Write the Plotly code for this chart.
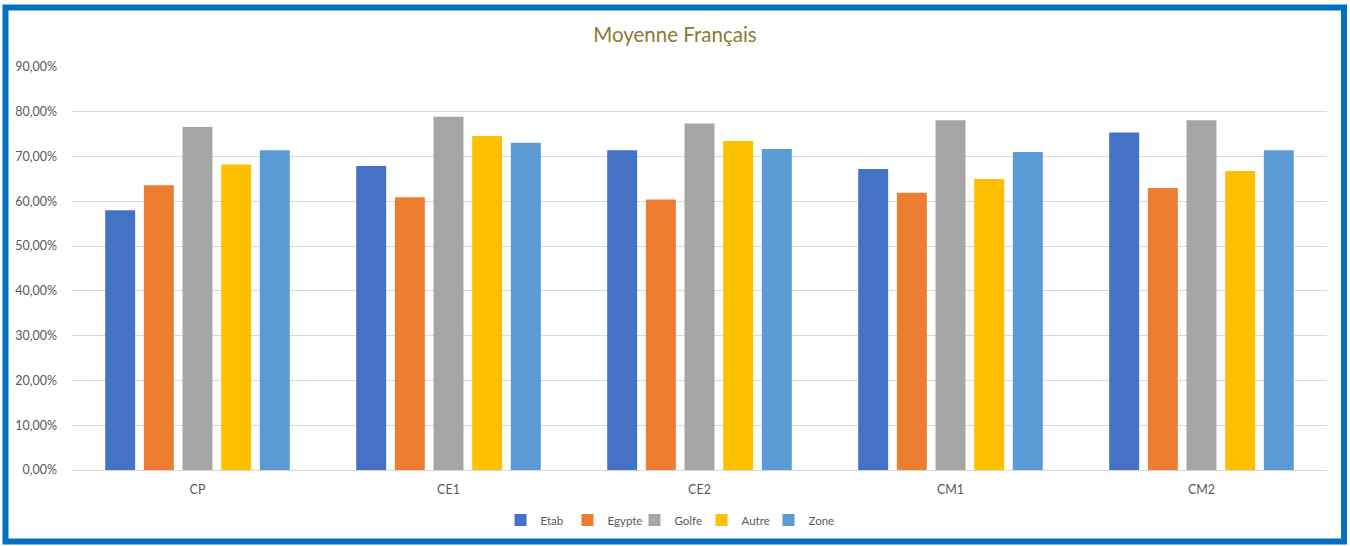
import plotly.graph_objects as go

categories = ["CP", "CE1", "CE2", "CM1", "CM2"]
series_names = ["Etab", "Egypte", "Golfe", "Autre", "Zone"]
etab = [0.580, 0.679, 0.714, 0.672, 0.754]
egypte = [0.636, 0.609, 0.604, 0.619, 0.630]
golfe = [0.766, 0.789, 0.774, 0.781, 0.781]
autre = [0.682, 0.746, 0.735, 0.650, 0.668]
zone = [0.714, 0.731, 0.717, 0.710, 0.714]
colors = ["#4472C4", "#ED7D31", "#A5A5A5", "#FFC000", "#5B9BD5"]

fig = go.Figure()
for name, vals, col in zip(series_names, [etab, egypte, golfe, autre, zone], colors):
    fig.add_trace(go.Bar(name=name, x=categories, y=vals, marker=dict(color=col, line=dict(width=0))))

W, H = 1350, 546
ml, mr, mt, mb = 72, 23, 67, 76
pw, ph = W - ml - mr, H - mt - mb

def px_x(p):
    return (p - ml) / pw

def px_y(p):
    return (H - mb - p) / ph

fig.update_layout(
    width=W, height=H,
    margin=dict(l=ml, r=mr, t=mt, b=mb, autoexpand=False),
    paper_bgcolor="white", plot_bgcolor="white",
    barmode="group", bargap=0.23, bargroupgap=0.225,
    separators=", ",
    font=dict(family="Lato, Open Sans, sans-serif", color="#595959", size=12),
    title=dict(text="Moyenne Français", x=0.5, xanchor="center", xref="container",
               y=1 - 35 / H, yanchor="middle",
               font=dict(size=20.5, color="#8C7B2F", family="Lato, Open Sans, sans-serif")),
    legend=dict(orientation="h", x=px_x(668), xanchor="center",
                y=px_y(520), yanchor="middle",
                font=dict(size=11.5, color="#595959"), itemwidth=30, traceorder="normal",
                entrywidth=22, itemsizing="constant"),
    yaxis=dict(range=[0, 0.9], dtick=0.1, tickformat=".2%", showgrid=True,
               gridcolor="#D9D9D9", gridwidth=1, zeroline=False, showline=False,
               ticks="", tickfont=dict(size=12.5, color="#595959"), ticklabelstandoff=14),
    xaxis=dict(showline=True, linecolor="#D9D9D9", linewidth=1, ticks="",
               tickfont=dict(size=12.5, color="#595959"), ticklabelstandoff=8),
    shapes=[dict(type="rect", xref="paper", yref="paper",
                 x0=px_x(5.5), x1=px_x(1344), y0=px_y(541.5), y1=px_y(7.5),
                 line=dict(color="#0070C0", width=6), fillcolor="rgba(0,0,0,0)", layer="above")],
)

fig.write_html("out.html", config={"displayModeBar": False},
               post_script="document.body.style.margin='0';document.body.style.overflow='hidden';")
